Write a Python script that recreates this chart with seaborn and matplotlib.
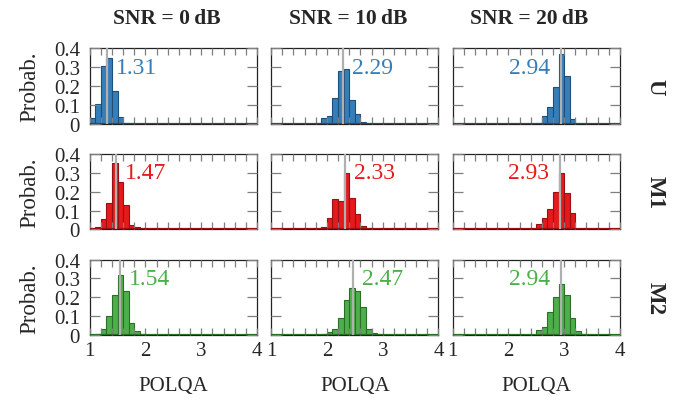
import numpy as np
import pandas as pd
import seaborn as sns
import matplotlib.pyplot as plt
from matplotlib.ticker import MultipleLocator, FixedLocator, FixedFormatter

sns.set_theme(style="ticks")
plt.rcParams["font.family"] = ["Liberation Serif", "DejaVu Serif"]
plt.rcParams["axes.axisbelow"] = False

# columns / rows
snr_titles = ["SNR = 0\u2009dB", "SNR = 10\u2009dB", "SNR = 20\u2009dB"]
models = ["U", "M1", "M2"]

# mean POLQA per panel (row = model, col = SNR)
means = [[1.31, 2.29, 2.94],
         [1.47, 2.33, 2.93],
         [1.54, 2.47, 2.94]]

# left edge of the first non-empty 0.1-wide bin per panel
first_bin = [[1.0, 1.8, 2.5],
             [1.0, 1.8, 2.4],
             [1.1, 1.9, 2.5]]

# bin probabilities
probs_u = [[0.030, 0.103, 0.307, 0.347, 0.172, 0.037, 0.005, 0.003],
           [0.005, 0.033, 0.040, 0.135, 0.282, 0.291, 0.128, 0.054, 0.010, 0.003],
           [0.007, 0.044, 0.088, 0.196, 0.368, 0.254, 0.026, 0.004]]
probs_m1 = [[0.004, 0.012, 0.053, 0.142, 0.350, 0.250, 0.129, 0.021, 0.011],
            [0.004, 0.014, 0.062, 0.163, 0.150, 0.300, 0.168, 0.080, 0.018, 0.007, 0.003],
            [0.004, 0.030, 0.060, 0.106, 0.198, 0.297, 0.195, 0.088, 0.004, 0.002]]
probs_m2 = [[0.004, 0.032, 0.100, 0.214, 0.318, 0.232, 0.064, 0.021, 0.004],
            [0.004, 0.014, 0.032, 0.090, 0.187, 0.247, 0.233, 0.150, 0.032, 0.008, 0.003],
            [0.029, 0.045, 0.121, 0.200, 0.268, 0.214, 0.089, 0.021, 0.004]]
probs = [probs_u, probs_m1, probs_m2]

fills = ["#377eb8", "#e41a1c", "#4daf4a"]
edges_c = ["#1d4f7c", "#9b1012", "#2a6e28"]

edges = [round(1.0 + 0.1 * k, 1) for k in range(31)]
centers = [round(e + 0.05, 2) for e in edges[:-1]]

fig, axes = plt.subplots(3, 3, figsize=(6.82, 4.02), dpi=100)
fig.subplots_adjust(left=0.1315, right=0.909, top=0.877, bottom=0.1642,
                    wspace=0.084, hspace=0.40)

for i in range(3):
    for j in range(3):
        ax = axes[i, j]
        w = np.zeros(len(centers))
        k0 = int(round((first_bin[i][j] - 1.0) * 10))
        vals = probs[i][j]
        w[k0:k0 + len(vals)] = vals
        df = pd.DataFrame({"polqa": centers, "p": w})
        sns.histplot(data=df, x="polqa", weights="p", bins=edges, color=fills[i],
                     edgecolor=edges_c[i], linewidth=0.8, alpha=1, ax=ax)
        ax.axhline(0, color=edges_c[i], lw=1.6, zorder=4)
        m = means[i][j]
        ax.axvline(m, color="#b0b0b0", lw=1.6, zorder=5)
        if j < 2:
            ax.text(m + 0.16, 0.30, f"{m:.2f}", color=fills[i], fontsize=17,
                    ha="left", va="center")
        else:
            ax.text(m - 0.2, 0.30, f"{m:.2f}", color=fills[i], fontsize=17,
                    ha="right", va="center")

        ax.set_xlim(1, 4)
        ax.set_ylim(0, 0.4)
        ax.xaxis.set_major_locator(FixedLocator([1, 2, 3, 4]))
        ax.xaxis.set_minor_locator(MultipleLocator(0.2))
        ax.yaxis.set_major_locator(FixedLocator([0, 0.1, 0.2, 0.3, 0.4]))
        ax.tick_params(which="both", direction="in", top=True, right=True,
                       width=0.9, color="#7f7f7f", labelsize=15)
        ax.tick_params(axis="x", which="both", length=5, pad=4)
        ax.tick_params(axis="y", which="major", length=7.5, pad=7)
        for s in ax.spines.values():
            s.set_color("#222222")
            s.set_linewidth(0.9)

        ax.set_ylabel("")
        ax.set_xlabel("")
        if j == 0:
            ax.yaxis.set_major_formatter(FixedFormatter(["0", "0.1", "0.2", "0.3", "0.4"]))
            ax.set_ylabel("Probab.", fontsize=16.5, labelpad=10)
        else:
            ax.set_yticklabels([])
        if i == 2:
            ax.set_xticklabels(["1", "2", "3", "4"])
            ax.set_xlabel("POLQA", fontsize=15, labelpad=12)
        else:
            ax.set_xticklabels([])
        if i == 0:
            ax.set_title(snr_titles[j], fontsize=15.5, fontweight="bold", pad=18, x=0.46)
        if j == 2:
            ax.text(1.21, 0.5, models[i], transform=ax.transAxes, rotation=270,
                    ha="center", va="center", fontsize=16.5, fontweight="bold")

fig.savefig("out.png", dpi=100)
